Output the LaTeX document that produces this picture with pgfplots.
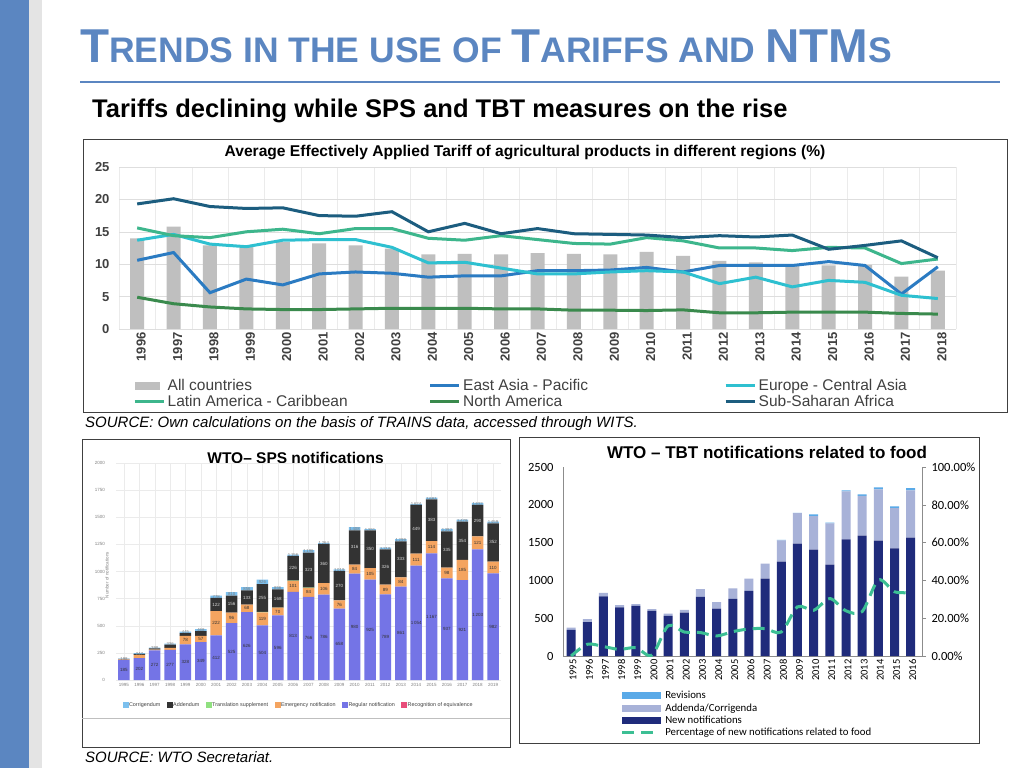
\documentclass[border=0pt]{standalone}
\usepackage{fontspec}
\setmainfont{Liberation Sans}
\newfontfamily\carlito{Carlito}
\usepackage{pgfplots}
\usepackage{pgfplotstable}
\pgfplotsset{compat=1.18}
\definecolor{slideblue}{HTML}{5B86C1}
\definecolor{stripgray}{HTML}{E4E4E4}
\definecolor{allc}{HTML}{BFBFBF}
\definecolor{eap}{HTML}{2B7BC2}
\definecolor{eca}{HTML}{2EC0D0}
\definecolor{lac}{HTML}{3DB68C}
\definecolor{na}{HTML}{3A8A4D}
\definecolor{ssa}{HTML}{1C5D7F}
\definecolor{tick}{HTML}{404040}
\definecolor{spsreg}{HTML}{7474E6}
\definecolor{spsem}{HTML}{F4A460}
\definecolor{spstr}{HTML}{90E080}
\definecolor{spsadd}{HTML}{333333}
\definecolor{spscor}{HTML}{7CC0EE}
\definecolor{spsrec}{HTML}{E84D7A}
\definecolor{tbtnew}{HTML}{1F2B7B}
\definecolor{tbtadd}{HTML}{A8B2D8}
\definecolor{tbtrev}{HTML}{5AAAE8}
\definecolor{tbtpct}{HTML}{3CBF94}

\pgfplotstableread{
x allc eap eca lac na ssa
0 14.0 10.6 13.7 15.6 4.9 19.3
1 15.8 11.8 14.6 14.4 3.9 20.1
2 12.9 5.6 13.1 14.1 3.4 18.9
3 12.7 7.7 12.7 15.0 3.1 18.6
4 13.4 6.8 13.7 15.4 3.0 18.7
5 13.2 8.5 13.8 14.7 3.0 17.5
6 12.9 8.8 13.8 15.5 3.1 17.4
7 12.4 8.6 12.6 15.5 3.2 18.1
8 11.5 8.0 10.2 14.0 3.2 15.0
9 11.6 8.2 10.3 13.7 3.2 16.3
10 11.5 8.2 9.4 14.4 3.1 14.7
11 11.7 9.0 8.5 13.8 3.1 15.5
12 11.6 9.0 8.5 13.2 2.9 14.7
13 11.5 9.1 8.8 13.1 2.9 14.6
14 11.9 9.5 9.0 14.1 2.85 14.5
15 11.3 8.8 8.8 13.6 2.95 14.1
16 10.5 9.8 7.0 12.5 2.5 14.4
17 10.3 9.8 8.0 12.5 2.5 14.2
18 9.8 9.8 6.5 12.1 2.6 14.5
19 9.8 10.4 7.5 12.6 2.6 12.3
20 9.9 9.8 7.2 12.5 2.6 12.9
21 8.1 5.4 5.2 10.1 2.4 13.6
22 9.0 9.6 4.7 10.8 2.3 11.0
}\tariff

\pgfplotstableread{
x reg em tr add cor tot
0 185 5 0 5 3 198
1 202 29 0 10 6 247
2 272 7 0 13 6 298
3 277 20 0 29 10 336
4 328 78 0 27 12 445
5 349 57 0 44 18 468
6 412 222 0 122 22 778
7 525 96 0 156 33 810
8 626 68 0 133 29 856
9 504 119 5 255 43 926
10 596 70 1 168 21 856
11 813 101 2 226 14 1156
12 766 84 2 323 21 1196
13 786 106 1 360 11 1264
14 658 76 0 270 15 1019
15 980 84 0 316 28 1408
16 925 105 0 350 11 1391
17 789 89 0 326 15 1219
18 861 84 0 333 21 1299
19 1054 111 0 449 10 1624
20 1167 114 0 383 17 1681
21 937 98 0 335 22 1392
22 921 185 0 354 19 1479
23 1203 121 0 290 18 1632
24 982 110 0 352 15 1459
}\sps

\pgfplotstableread{
x new add rev pct
0 345 31 0 0
1 447 40 0 6.2
2 788 48 0 5.0
3 642 31 0 3.5
4 664 22 0 4.4
5 597 22 0 0.5
6 531 31 0 16.0
7 575 36 0 12.7
8 783 102 0 12.4
9 628 84 0 10.6
10 757 137 0 12.9
11 863 159 0 14.3
12 1022 199 0 14.5
13 1248 282 5 12.7
14 1487 402 5 26.0
15 1407 443 22 24.2
16 1208 547 10 30.4
17 1544 633 13 23.9
18 1593 526 18 23.5
19 1527 677 26 40.2
20 1425 531 22 34.0
21 1566 624 31 33.6
}\tbt

\begin{document}
\begin{tikzpicture}[x=1pt,y=1pt]
\useasboundingbox (0,0) rectangle (1024,768);
\fill[white] (0,0) rectangle (1024,768);
\fill[slideblue] (0,0) rectangle (29,768);
\fill[stripgray] (29,0) rectangle (42,768);

% title
\node[anchor=base west, inner sep=0pt, text=slideblue, font=\bfseries] at (80,705)
 {{\fontsize{47.5}{47.5}\selectfont T}{\fontsize{35.5}{35.5}\selectfont RENDS IN THE USE OF }{\fontsize{47.5}{47.5}\selectfont T}{\fontsize{35.5}{35.5}\selectfont ARIFFS AND }{\fontsize{47.5}{47.5}\selectfont NTM}{\fontsize{35.5}{35.5}\selectfont S}};
\draw[slideblue, line width=1.5pt] (80,686) -- (1000,686);
\node[anchor=base west, inner sep=0pt, font=\bfseries\fontsize{25.5}{25.5}\selectfont] at (92,650)
 {Tariffs declining while SPS and TBT measures on the rise};

% ---------- tariff chart ----------
\draw[black!75, line width=1pt] (83,355) rectangle (1007,628);
\node[anchor=base, inner sep=0pt, font=\bfseries\fontsize{15.6}{15.6}\selectfont] at (525,611)
 {Average Effectively Applied Tariff of agricultural products in different regions (\%)};
\begin{axis}[
  at={(119pt,439pt)}, anchor=south west, scale only axis,
  width=837pt, height=162pt,
  xmin=-0.5, xmax=22.5, ymin=0, ymax=25,
  ytick={0,5,...,25},
  xtick={0,...,22},
  xticklabels={1996,1997,1998,1999,2000,2001,2002,2003,2004,2005,2006,2007,2008,2009,2010,2011,2012,2013,2014,2015,2016,2017,2018},
  minor xtick={-0.5,0.5,...,22.5},
  ymajorgrids, xminorgrids,
  major grid style={draw=black!13},
  minor grid style={draw=black!8},
  axis line style={draw=none},
  major tick length=0pt, minor tick length=0pt,
  /pgf/number format/assume math mode=true,
  tick label style={font=\bfseries\fontsize{13}{13}\selectfont, text=tick},
  x tick label style={rotate=90, anchor=east, yshift=-4pt},
  y tick label style={xshift=-6pt},
  legend columns=3,
  legend cell align=left,
  legend image code/.code={\draw[#1] (0pt,0pt) -- (29pt,0pt);},
  legend style={at={(0.0167,-0.305)}, anchor=north west, draw=none, fill=none,
    font=\fontsize{15.5}{15.5}\selectfont, text=tick, inner sep=0pt,
    nodes={inner sep=1pt},
    /tikz/every even column/.append style={column sep=0pt},
    /tikz/every odd column/.append style={column sep=1.5pt},
    row sep=1pt},
]
\addplot[ybar, bar width=14pt, fill=allc, draw=none,
  legend image code/.code={\fill[allc] (0pt,-4pt) rectangle (25pt,4pt);}]
  table[x=x,y=allc]{\tariff};
\addlegendentry{\makebox[260pt][l]{All countries}}
\addplot[eap, line width=3pt, mark=none] table[x=x,y=eap]{\tariff};
\addlegendentry{\makebox[260pt][l]{East Asia - Pacific}}
\addplot[eca, line width=3pt, mark=none] table[x=x,y=eca]{\tariff};
\addlegendentry{\makebox[150pt][l]{Europe - Central Asia}}
\addplot[lac, line width=3pt, mark=none] table[x=x,y=lac]{\tariff};
\addlegendentry{\makebox[260pt][l]{Latin America - Caribbean}}
\addplot[na, line width=3pt, mark=none] table[x=x,y=na]{\tariff};
\addlegendentry{\makebox[260pt][l]{North America}}
\addplot[ssa, line width=3pt, mark=none] table[x=x,y=ssa]{\tariff};
\addlegendentry{\makebox[150pt][l]{Sub-Saharan Africa}}
\end{axis}
\node[anchor=base west, inner sep=0pt, font=\itshape\fontsize{15}{15}\selectfont] at (85,340)
 {SOURCE: Own calculations on the basis of TRAINS data, accessed through WITS.};

% ---------- SPS chart ----------
\draw[black!75, line width=1pt] (82,21) rectangle (510,328);
\draw[black!25] (82,50) -- (510,50);
\node[anchor=base, inner sep=0pt, font=\bfseries\fontsize{15.5}{15.5}\selectfont] at (295.5,304)
 {WTO– SPS notifications};
\node[rotate=90, inner sep=0pt, font=\fontsize{4.5}{5}\selectfont, text=gray] at (107,193) {Number of notifications};
\begin{axis}[
  at={(116.3pt,88pt)}, anchor=south west, scale only axis,
  width=384.4pt, height=217pt,
  xmin=-0.5, xmax=24.5, ymin=0, ymax=2000,
  ybar stacked, bar width=11.5pt,
  ytick={0,250,...,2000},
  xtick={0,...,24},
  xticklabels={1995,1996,1997,1998,1999,2000,2001,2002,2003,2004,2005,2006,2007,2008,2009,2010,2011,2012,2013,2014,2015,2016,2017,2018,2019},
  ymajorgrids, xmajorgrids,
  major grid style={draw=black!8},
  axis line style={draw=none},
  major tick length=0pt,
  /pgf/number format/assume math mode=true,
  /pgf/number format/1000 sep={},
  tick label style={font=\fontsize{4.5}{5}\selectfont, text=gray},
  y tick label style={xshift=-8pt},
  legend columns=6,
  legend cell align=left,
  legend style={at={(0.473,-0.115)}, anchor=center, draw=none, fill=none,
    font=\fontsize{5.4}{6}\selectfont, text=darkgray, inner sep=0pt,
    nodes={inner sep=1pt},
    /tikz/every even column/.append style={column sep=5.5pt}},
  nodes near coords style={font=\fontsize{4.3}{5}\selectfont, text=gray},
]
\addlegendimage{legend image code/.code={\fill[spscor] (0pt,-2.5pt) rectangle (5pt,2.5pt);}}
\addlegendentry{Corrigendum}
\addlegendimage{legend image code/.code={\fill[spsadd] (0pt,-2.5pt) rectangle (5pt,2.5pt);}}
\addlegendentry{Addendum}
\addlegendimage{legend image code/.code={\fill[spstr] (0pt,-2.5pt) rectangle (5pt,2.5pt);}}
\addlegendentry{Translation supplement}
\addlegendimage{legend image code/.code={\fill[spsem] (0pt,-2.5pt) rectangle (5pt,2.5pt);}}
\addlegendentry{Emergency notification}
\addlegendimage{legend image code/.code={\fill[spsreg] (0pt,-2.5pt) rectangle (5pt,2.5pt);}}
\addlegendentry{Regular notification}
\addlegendimage{legend image code/.code={\fill[spsrec] (0pt,-2.5pt) rectangle (5pt,2.5pt);}}
\addlegendentry{Recognition of equivalence}
\addplot[fill=spsreg, draw=none] table[x=x,y=reg]{\sps};
\addplot[fill=spsem, draw=none] table[x=x,y=em]{\sps};
\addplot[fill=spstr, draw=none] table[x=x,y=tr]{\sps};
\addplot[fill=spsadd, draw=none] table[x=x,y=add]{\sps};
\addplot[fill=spscor, draw=none, point meta=explicit,
  nodes near coords={\pgfmathprintnumber[1000 sep={\,}]{\pgfplotspointmeta}}]
  table[x=x,y=cor,meta=tot]{\sps};
\end{axis}
\begin{axis}[
  at={(116.3pt,88pt)}, anchor=south west, scale only axis,
  width=384.4pt, height=217pt,
  xmin=-0.5, xmax=24.5, ymin=0, ymax=2000, hide axis,
  nodes near coords, point meta=explicit symbolic,
  every node near coord/.append style={anchor=center, inner sep=0pt, font=\fontsize{4.5}{5}\selectfont},
]
\addplot[draw=none, mark=none, nodes near coords style={text=black!80}] coordinates {
(0,92.5)[185] (1,101)[202] (2,136)[272] (3,138.5)[277] (4,164)[328] (5,174.5)[349]
(6,206)[412] (7,262.5)[525] (8,313)[626] (9,252)[504] (10,298)[596] (11,406.5)[813]
(12,383)[766] (13,393)[786] (14,329)[658] (15,490)[980] (16,462.5)[925] (17,394.5)[789]
(18,430.5)[861] (19,527)[1\,054] (20,583.5)[1\,167] (21,468.5)[937] (22,460.5)[921]
(23,601.5)[1\,203] (24,491)[982]};
\addplot[draw=none, mark=none, nodes near coords style={text=black!80}] coordinates {
(4,367)[78] (5,377.5)[57] (6,523)[222] (7,573)[96] (8,660)[68] (9,563.5)[119]
(10,631)[70] (11,863.5)[101] (12,808)[84] (13,839)[106] (14,696)[76] (15,1022)[84]
(16,977.5)[105] (17,833.5)[89] (18,903)[84] (19,1109.5)[111] (20,1224)[114]
(21,986)[98] (22,1013.5)[185] (23,1263.5)[121] (24,1037)[110]};
\addplot[draw=none, mark=none, nodes near coords style={text=white!85!black}] coordinates {
(6,695)[122] (7,699)[156] (8,760.5)[133] (9,755.5)[255] (10,751)[168] (11,1029)[226]
(12,1013.5)[323] (13,1073)[360] (14,869)[270] (15,1222)[316] (16,1205)[350]
(17,1041)[326] (18,1111.5)[333] (19,1389.5)[449] (20,1472.5)[383] (21,1202.5)[335]
(22,1283)[354] (23,1469)[290] (24,1268)[352]};
\end{axis}
\node[anchor=base west, inner sep=0pt, font=\itshape\fontsize{15}{15}\selectfont] at (85,6)
 {SOURCE: WTO Secretariat.};

% ---------- TBT chart ----------
\draw[black!75, line width=1pt] (519,25) rectangle (979,330);
\node[anchor=base, inner sep=0pt, font=\bfseries\fontsize{17}{17}\selectfont] at (767,309)
 {WTO – TBT notifications related to food};
\begin{axis}[
  at={(563pt,112pt)}, anchor=south west, scale only axis,
  width=359pt, height=189pt,
  xmin=-0.5, xmax=21.7, ymin=0, ymax=2500,
  ybar stacked, bar width=9pt,
  axis x line*=bottom, axis y line*=left,
  axis line style={draw=black!45},
  ytick={0,500,...,2500},
  xtick={0,...,21},
  xticklabels={1995,1996,1997,1998,1999,2000,2001,2002,2003,2004,2005,2006,2007,2008,2009,2010,2011,2012,2013,2014,2015,2016},
  major tick length=0pt,
  /pgf/number format/assume math mode=true,
  /pgf/number format/1000 sep={},
  tick label style={font=\carlito\fontsize{12.5}{13}\selectfont, text=black},
  x tick label style={rotate=90, anchor=east, font=\carlito\fontsize{10.5}{11}\selectfont, yshift=-2pt},
  y tick label style={xshift=-6pt},
]
\addplot[fill=tbtnew, draw=none] table[x=x,y=new]{\tbt};
\addplot[fill=tbtadd, draw=none] table[x=x,y=add]{\tbt};
\addplot[fill=tbtrev, draw=none] table[x=x,y=rev]{\tbt};
\end{axis}
\begin{axis}[
  at={(563pt,112pt)}, anchor=south west, scale only axis,
  width=359pt, height=189pt,
  xmin=-0.5, xmax=21.7, ymin=0, ymax=100,
  axis y line*=right, axis x line=none,
  axis line style={draw=black!45},
  ytick={0,20,...,100},
  yticklabel={\pgfmathprintnumber[fixed,fixed zerofill,precision=2]{\tick}\%},
  tick align=outside, major tick length=4pt,
  major tick style={draw=black!45},
  /pgf/number format/assume math mode=true,
  tick label style={font=\carlito\fontsize{12.5}{13}\selectfont, text=black},
  y tick label style={xshift=2pt},
  legend cell align=left,
  legend style={at={(0.16,-0.182)}, anchor=north west, draw=none, fill=none,
    font=\carlito\fontsize{10.8}{11}\selectfont, inner sep=0pt,
    nodes={inner sep=0.6pt}, row sep=2.2pt,
    /tikz/every odd column/.append style={column sep=3pt}},
]
\addlegendimage{legend image code/.code={\fill[tbtrev] (0pt,-3pt) rectangle (38pt,3pt);}}
\addlegendentry{Revisions}
\addlegendimage{legend image code/.code={\fill[tbtadd] (0pt,-3pt) rectangle (38pt,3pt);}}
\addlegendentry{Addenda/Corrigenda}
\addlegendimage{legend image code/.code={\fill[tbtnew] (0pt,-3pt) rectangle (38pt,3pt);}}
\addlegendentry{New notifications}
\addplot[tbtpct, line width=3pt, dash pattern=on 12pt off 7pt, smooth, mark=none,
  legend image code/.code={\draw[tbtpct, line width=3pt, dash pattern=on 12pt off 7pt] (0pt,0pt) -- (38pt,0pt);}]
  table[x=x,y=pct]{\tbt};
\addlegendentry{Percentage of new notifications related to food}
\end{axis}
\end{tikzpicture}
\end{document}
